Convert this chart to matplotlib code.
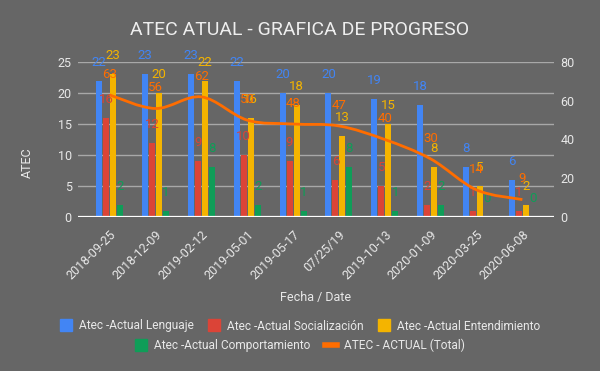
import matplotlib
matplotlib.use('Agg')
import matplotlib.pyplot as plt
from matplotlib.path import Path
from matplotlib.patches import PathPatch
from matplotlib.lines import Line2D

# datos
fechas = ['2018-09-25', '2018-12-09', '2019-02-12', '2019-05-01', '2019-05-17',
          '07/25/19', '2019-10-13', '2020-01-09', '2020-03-25', '2020-06-08']
lenguaje = [22, 23, 23, 22, 20, 20, 19, 18, 8, 6]
socializacion = [16, 12, 9, 10, 9, 6, 5, 2, 1, 1]
entendimiento = [23, 20, 22, 16, 18, 13, 15, 8, 5, 2]
comportamiento = [2, 1, 8, 2, 1, 8, 1, 2, 0, 0]
total = [63, 56, 62, 50, 48, 47, 40, 30, 14, 9]

nombres = ['Atec -Actual Lenguaje', 'Atec -Actual Socialización',
           'Atec -Actual Entendimiento', 'Atec -Actual Comportamiento']
colores = ['#4285f4', '#db4437', '#f4b400', '#0f9d58']
naranja = '#ff6d00'
fondo = '#666666'
txt = '#e8e8e8'

plt.rcParams['font.family'] = ['Roboto', 'DejaVu Sans']


def curva(xs, ys):
    # linea suavizada tipo google charts
    pts = list(zip(xs, ys))
    n = len(pts)
    verts = [pts[0]]
    codes = [Path.MOVETO]
    for i in range(n - 1):
        p0 = pts[max(i - 1, 0)]
        p1 = pts[i]
        p2 = pts[i + 1]
        p3 = pts[min(i + 2, n - 1)]
        c1 = (p1[0] + (p2[0] - p0[0]) / 6, p1[1] + (p2[1] - p0[1]) / 6)
        c2 = (p2[0] - (p3[0] - p1[0]) / 6, p2[1] - (p3[1] - p1[1]) / 6)
        verts += [c1, c2, p2]
        codes += [Path.CURVE4] * 3
    return Path(verts, codes)


fig = plt.figure(figsize=(6, 3.71), dpi=100, facecolor=fondo)
ax = fig.add_axes([78 / 600, 1 - 217 / 371, 476 / 600, 155 / 371])
ax.set_facecolor(fondo)
ax2 = ax.twinx()

x = list(range(len(fechas)))
series = [lenguaje, socializacion, entendimiento, comportamiento]
w = 0.131
paso = 0.153
for k, s in enumerate(series):
    xs = [i + (k - 1.5) * paso for i in x]
    ax.bar(xs, s, width=w, color=colores[k], zorder=3)
    for xi, v in zip(xs, s):
        ax.annotate(str(v), (xi, v), xytext=(0, 10.8), textcoords='offset points',
                    ha='center', va='baseline', color=colores[k], fontsize=9.5, zorder=4)

ax2.add_patch(PathPatch(curva(x, total), facecolor='none', edgecolor=naranja, lw=2, zorder=5))
for xi, v in zip(x, total):
    ax2.annotate(str(v), (xi, v), xytext=(0, 12.5), textcoords='offset points',
                 ha='center', va='baseline', color=naranja, fontsize=9.5)

ax.set_xlim(-0.69, 9.69)
ax.set_ylim(0, 25)
ax.set_yticks([0, 5, 10, 15, 20, 25])
ax2.set_ylim(0, 80)
ax2.set_yticks([0, 20, 40, 60, 80])
ax.grid(axis='y', color='#a8a8a8', lw=1, zorder=0)
ax.axhline(0, color='white', lw=1.6, zorder=4)
for a in (ax, ax2):
    for sp in a.spines.values():
        sp.set_visible(False)
    a.tick_params(length=0, colors=txt, labelsize=9, pad=4.5)

ax.set_xticks(x)
ax.set_xticklabels(fechas, rotation=45, ha='right', va='top', rotation_mode='anchor')
ax.tick_params(axis='x', pad=8)

fig.text(300 / 600, 1 - 30 / 371, 'ATEC ATUAL - GRAFICA DE PROGRESO', ha='center', va='center',
         color='#eeeeee', fontsize=14)
fig.text(27 / 600, 1 - 163 / 371, 'ATEC', rotation=90, ha='center', va='center', color=txt, fontsize=9)
fig.text(316 / 600, 1 - 298 / 371, 'Fecha / Date', ha='center', va='center', color=txt, fontsize=9)

h = [Line2D([], [], marker='s', ls='', color=c, markersize=8) for c in colores]
hl = Line2D([], [], color=naranja, lw=4)
kw = dict(frameon=False, labelcolor=txt, fontsize=8.6, handlelength=1.0, handletextpad=0.6,
          columnspacing=1.2, borderpad=0, borderaxespad=0)
fig.legend(h[:3], nombres[:3], loc='center', bbox_to_anchor=(0.5, 1 - 326 / 371), ncol=3, **kw)
fig.legend([h[3], hl], [nombres[3], 'ATEC - ACTUAL (Total)'], loc='center',
           bbox_to_anchor=(0.5, 1 - 345 / 371), ncol=2, **kw)

fig.savefig('out.png', dpi=100, facecolor=fondo)
